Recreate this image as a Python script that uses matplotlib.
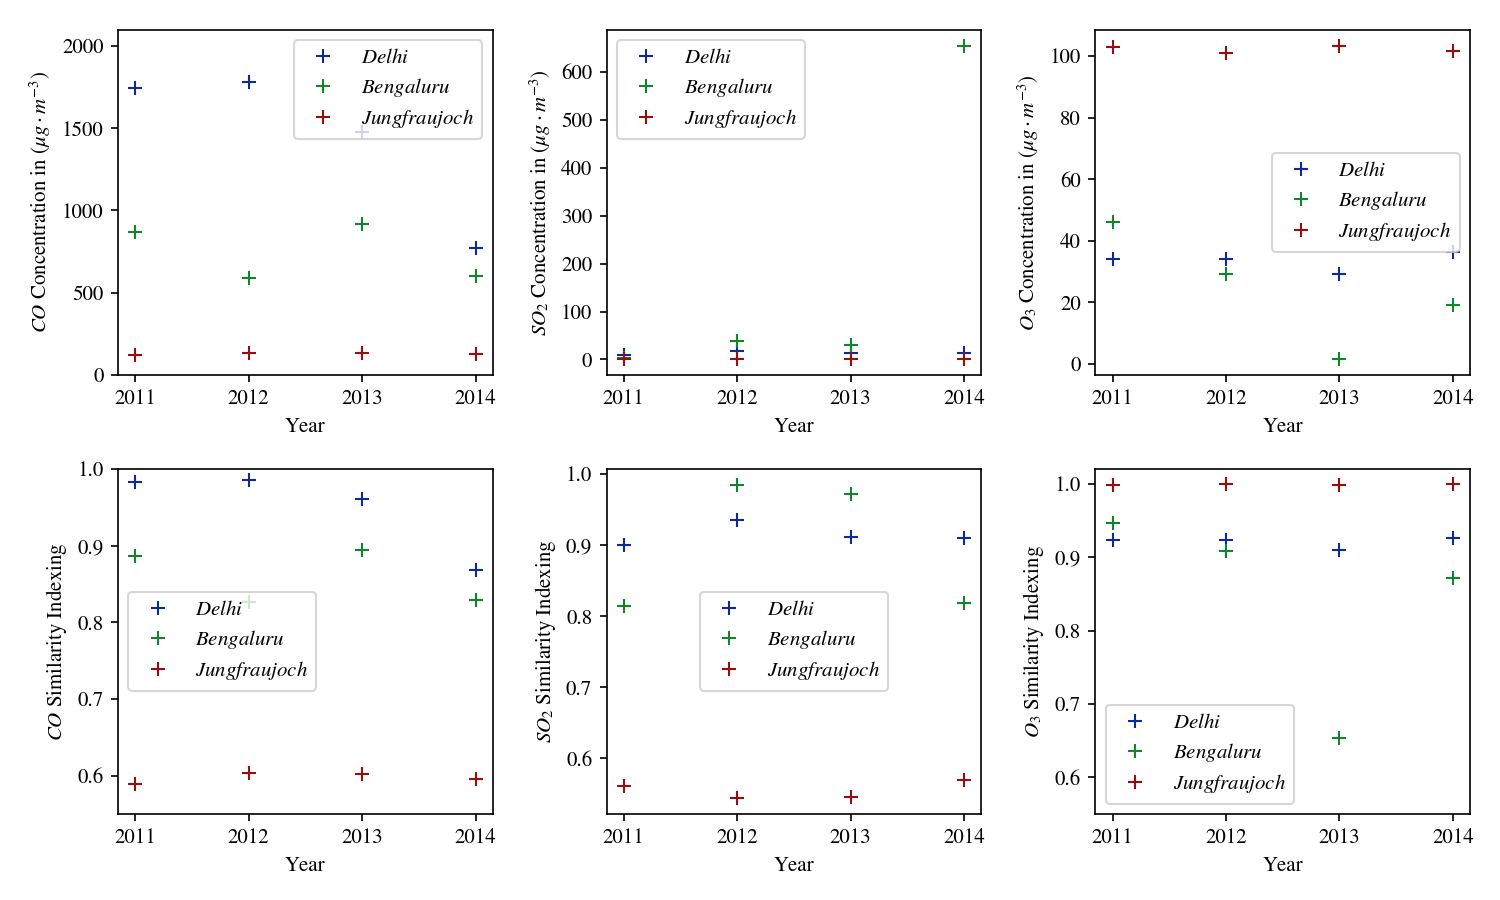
import matplotlib
matplotlib.use("Agg")
import matplotlib.pyplot as plt

plt.rcParams["font.family"] = ["STIXGeneral", "DejaVu Serif"]
plt.rcParams["mathtext.fontset"] = "stix"
plt.rcParams["font.size"] = 10

# ─── DATA ──────────────────────────────────────────────────────────────
years = [2011, 2012, 2013, 2014]
cities = ["Delhi", "Bengaluru", "Jungfraujoch"]
colors = ["#0c2a99", "#12852a", "#9a0d0d"]

co_conc_delhi = [1743, 1783, 1479, 770]
co_conc_beng = [867, 592, 918, 600]
co_conc_jung = [119, 132, 132, 126]

so2_conc_delhi = [10, 17, 13, 13]
so2_conc_beng = [3, 39, 31, 655]
so2_conc_jung = [0.4, 0.3, 0.4, 0.3]

o3_conc_delhi = [34.2, 34.1, 29.3, 36.2]
o3_conc_beng = [46.2, 29.2, 1.5, 19.0]
o3_conc_jung = [103.1, 101.0, 103.4, 101.6]

co_sim_delhi = [0.983, 0.986, 0.961, 0.868]
co_sim_beng = [0.886, 0.827, 0.894, 0.829]
co_sim_jung = [0.589, 0.6035, 0.602, 0.596]

so2_sim_delhi = [0.900, 0.935, 0.912, 0.910]
so2_sim_beng = [0.815, 0.985, 0.9715, 0.819]
so2_sim_jung = [0.561, 0.544, 0.546, 0.569]

o3_sim_delhi = [0.923, 0.923, 0.910, 0.927]
o3_sim_beng = [0.947, 0.909, 0.654, 0.872]
o3_sim_jung = [0.999, 1.0, 0.9986, 1.0]

panels = [
    ([co_conc_delhi, co_conc_beng, co_conc_jung],
     r"$CO$ Concentration in $(\mu g \cdot m^{-3})$", "upper right", (0, 2097)),
    ([so2_conc_delhi, so2_conc_beng, so2_conc_jung],
     r"$SO_2$ Concentration in $(\mu g \cdot m^{-3})$", "upper left", None),
    ([o3_conc_delhi, o3_conc_beng, o3_conc_jung],
     r"$O_3$ Concentration in $(\mu g \cdot m^{-3})$", "center right", None),
    ([co_sim_delhi, co_sim_beng, co_sim_jung],
     r"$CO$ Similarity Indexing", "center left", (0.55, 1.0)),
    ([so2_sim_delhi, so2_sim_beng, so2_sim_jung],
     r"$SO_2$ Similarity Indexing", "center", None),
    ([o3_sim_delhi, o3_sim_beng, o3_sim_jung],
     r"$O_3$ Similarity Indexing", "lower left", (0.55, 1.0205)),
]

# ─── PLOT ──────────────────────────────────────────────────────────────
fig, axes = plt.subplots(2, 3, figsize=(10, 6), dpi=150)
fig.subplots_adjust(left=0.0787, right=0.98, bottom=0.0956, top=0.9667,
                    wspace=0.305, hspace=0.2725)

for ax, (series, ylabel, loc, ylim) in zip(axes.flat, panels):
    for vals, city, c in zip(series, cities, colors):
        ax.plot(years, vals, "+", color=c, markersize=7, label="$" + city + "$")
    ax.set_xticks(years)
    ax.set_xlabel("Year")
    ax.set_ylabel(ylabel)
    if ylim is not None:
        ax.set_ylim(*ylim)
    ax.legend(loc=loc, labelspacing=0.38)

fig.savefig("out.png", dpi=150)
